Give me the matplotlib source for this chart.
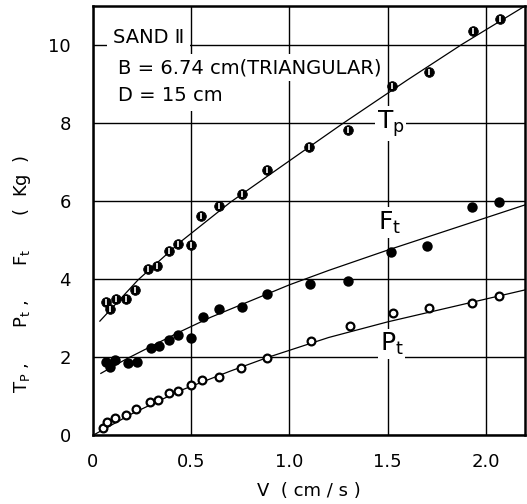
import matplotlib
matplotlib.use("Agg")
import matplotlib.pyplot as plt

# ---- data ----
Tp_v = [0.068, 0.085, 0.118, 0.169, 0.215, 0.279, 0.325, 0.386, 0.435, 0.499,
        0.55, 0.64, 0.758, 0.887, 1.10, 1.30, 1.524, 1.71, 1.934, 2.075]
Tp_y = [3.42, 3.22, 3.50, 3.48, 3.73, 4.25, 4.33, 4.72, 4.91, 4.87,
        5.62, 5.87, 6.17, 6.79, 7.39, 7.82, 8.95, 9.30, 10.37, 10.66]

Ft_v = [0.068, 0.085, 0.11, 0.178, 0.225, 0.296, 0.338, 0.389, 0.435, 0.499,
        0.558, 0.64, 0.758, 0.887, 1.107, 1.30, 1.52, 1.70, 1.93, 2.07]
Ft_y = [1.88, 1.75, 1.92, 1.84, 1.88, 2.22, 2.28, 2.44, 2.56, 2.48,
        3.03, 3.22, 3.29, 3.61, 3.86, 3.95, 4.70, 4.85, 5.84, 5.98]

Pt_v = [0.051, 0.073, 0.11, 0.169, 0.22, 0.288, 0.33, 0.389, 0.435, 0.499,
        0.553, 0.641, 0.755, 0.887, 1.11, 1.31, 1.528, 1.71, 1.93, 2.07]
Pt_y = [0.17, 0.33, 0.43, 0.51, 0.67, 0.85, 0.91, 1.07, 1.14, 1.28,
        1.41, 1.50, 1.72, 1.98, 2.42, 2.79, 3.12, 3.26, 3.39, 3.56]

# fitted curves as drawn in the reference
Tp_fit_v = [0.035, 0.23, 0.45, 0.70, 1.00, 1.27, 1.60, 1.88, 2.20]
Tp_fit_y = [2.92, 3.98, 4.97, 5.97, 7.03, 7.98, 9.10, 10.02, 11.0]
Ft_fit_v = [0.04, 0.17, 0.44, 0.60, 1.00, 1.20, 1.50, 2.20]
Ft_fit_y = [1.58, 1.95, 2.64, 3.02, 3.85, 4.22, 4.74, 5.90]
Pt_fit_v = [0.01, 0.20, 0.45, 0.70, 0.89, 1.20, 1.50, 2.20]
Pt_fit_y = [0.02, 0.55, 1.15, 1.64, 1.99, 2.50, 2.90, 3.72]

x_ticks = [0, 0.5, 1.0, 1.5, 2.0]
x_ticklabels = ["0", "0.5", "1.0", "1.5", "2.0"]
y_ticks = [0, 2, 4, 6, 8, 10]

plt.rcParams['font.family'] = ['DejaVu Sans']

fig = plt.figure(figsize=(5.27, 5.04), dpi=100)
ax = fig.add_axes([93/527, 69/504, 432/527, 429/504])
ax.set_xlim(0, 2.2)
ax.set_ylim(0, 11)

ax.set_xticks(x_ticks)
ax.set_xticklabels(x_ticklabels)
ax.set_yticks(y_ticks)
ax.tick_params(length=0, labelsize=13, colors='black')
ax.tick_params(axis='x', pad=13)
ax.tick_params(axis='y', pad=16)
ax.grid(True, color='black', linewidth=1.0, zorder=0)
ax.set_axisbelow(True)
for s in ax.spines.values():
    s.set_linewidth(1.8)
    s.set_color('black')

lw = 0.9
ax.plot(Tp_fit_v, Tp_fit_y, color='black', lw=lw, zorder=2)
ax.plot(Ft_fit_v, Ft_fit_y, color='black', lw=lw, zorder=2)
ax.plot(Pt_fit_v, Pt_fit_y, color='black', lw=lw, zorder=2)

# Tp: black circle with narrow white slit
ax.plot(Tp_v, Tp_y, linestyle='none', marker='o', ms=7, mfc='black',
        mec='black', mew=0.5, zorder=3)
ax.plot(Tp_v, Tp_y, linestyle='none', marker='|', ms=4, mec='white',
        mew=1.2, zorder=4)
# Ft: filled
ax.plot(Ft_v, Ft_y, linestyle='none', marker='o', ms=7.5, mfc='black',
        mec='black', mew=0, zorder=3)
# Pt: open
ax.plot(Pt_v, Pt_y, linestyle='none', marker='o', ms=5.6, mfc='white',
        mec='black', mew=1.6, zorder=3)

wb = dict(facecolor='white', edgecolor='none', pad=1.5)
ax.text(0.10, 10.19, "SAND Ⅱ", fontsize=14, va='center', ha='left',
        bbox=dict(facecolor='white', edgecolor='none', pad=4), zorder=5)
ax.text(0.127, 9.42, "B = 6.74 cm(TRIANGULAR)", fontsize=14, va='center',
        ha='left', bbox=dict(facecolor='white', edgecolor='none', pad=3), zorder=5)
ax.text(0.127, 8.70, "D = 15 cm", fontsize=14, va='center', ha='left',
        bbox=dict(facecolor='white', edgecolor='none', pad=4), zorder=5)

ax.text(1.515, 7.99, r"T$_\mathrm{p}$", fontsize=18, va='center', ha='center',
        bbox=wb, zorder=5)
ax.text(1.51, 5.45, r"F$_\mathrm{t}$", fontsize=18, va='center', ha='center',
        bbox=wb, zorder=5)
ax.text(1.52, 2.33, r"P$_\mathrm{t}$", fontsize=18, va='center', ha='center',
        bbox=wb, zorder=5)

ax.set_xlabel("V  ( cm / s )", fontsize=13, labelpad=8)
ax.set_ylabel(r"T$_\mathrm{P}$ ,      P$_\mathrm{t}$ ,      F$_\mathrm{t}$      (  Kg  )",
              fontsize=13)
ax.yaxis.set_label_coords(-0.14, 0.375)

fig.savefig("out.png", dpi=100)
